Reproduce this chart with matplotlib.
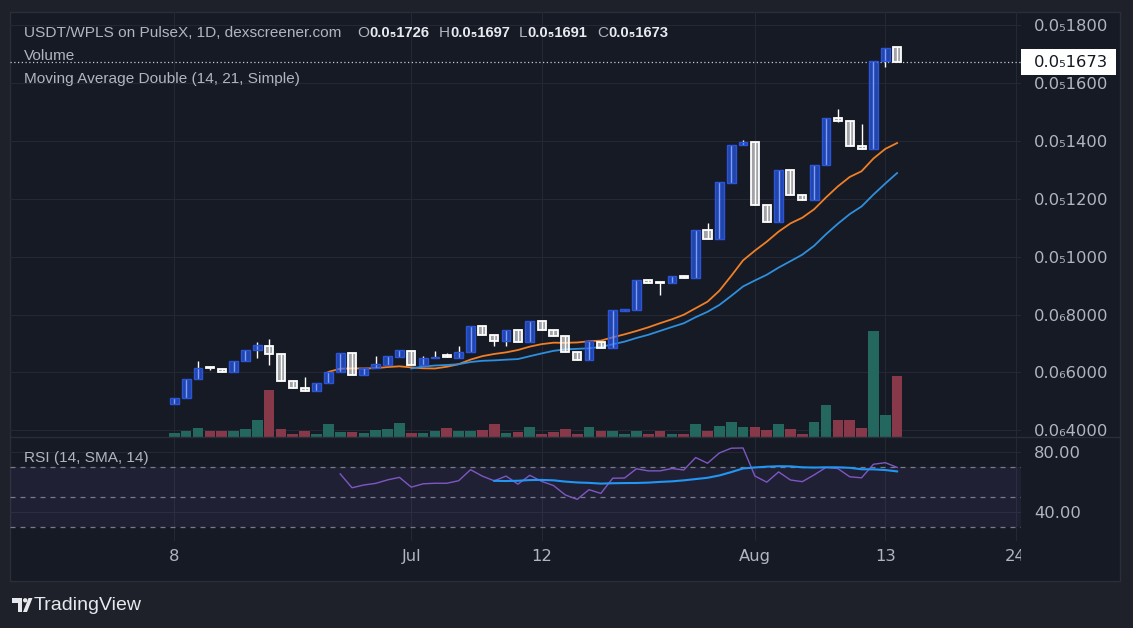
import numpy as np
import pandas as pd
import matplotlib
matplotlib.use("Agg")
import matplotlib.pyplot as plt
from matplotlib.patches import Rectangle, Polygon, Circle
from matplotlib.transforms import Bbox, IdentityTransform
from matplotlib.lines import Line2D

W, H = 1133, 628

# daily candles USDT/WPLS, prices in units of 1e-7
opens = [4.92, 5.12, 5.77, 6.17, 6.13, 6.00, 6.40, 6.78, 6.93, 6.65,
         5.72, 5.48, 5.36, 5.65, 6.00, 6.69, 5.93, 6.15, 6.26, 6.53,
         6.76, 6.25, 6.50, 6.57, 6.50, 6.71, 7.60, 7.31, 7.09, 7.46,
         7.07, 7.79, 7.48, 7.27, 6.72, 6.43, 7.07, 6.85, 8.14, 8.16,
         9.21, 9.11, 9.09, 9.35, 9.28, 10.94, 10.61, 12.55, 13.86, 13.95,
         11.80, 11.20, 13.01, 12.13, 11.97, 13.18, 14.81, 14.69, 13.83, 13.74,
         16.77, 17.26]
highs = [5.13, 5.79, 6.39, 6.17, 6.13, 6.41, 6.79, 7.04, 7.17, 6.65,
         5.72, 5.83, 5.65, 6.03, 6.69, 6.69, 6.15, 6.56, 6.56, 6.77,
         6.76, 6.56, 6.73, 6.69, 6.90, 7.60, 7.60, 7.31, 7.46, 7.46,
         7.79, 7.79, 7.48, 7.27, 6.72, 7.09, 7.07, 8.15, 8.17, 9.21,
         9.21, 9.11, 9.35, 9.35, 10.94, 11.17, 12.57, 13.88, 14.02, 13.95,
         11.80, 13.01, 13.01, 12.13, 13.18, 14.81, 15.12, 14.69, 14.60, 16.77,
         17.23, 17.26]
lows = [4.92, 5.12, 5.77, 6.07, 6.02, 6.00, 6.40, 6.50, 6.26, 5.71,
        5.48, 5.37, 5.36, 5.65, 6.00, 5.93, 5.93, 6.15, 6.26, 6.53,
        6.26, 6.25, 6.50, 6.55, 6.50, 6.71, 7.31, 6.92, 6.92, 7.07,
        7.07, 7.48, 7.26, 6.71, 6.43, 6.43, 6.86, 6.85, 8.14, 8.16,
        9.09, 8.68, 9.09, 9.28, 9.28, 10.63, 10.61, 12.55, 13.86, 11.80,
        11.20, 11.20, 12.15, 11.97, 11.97, 13.18, 14.65, 13.83, 13.72, 13.74,
        16.56, 16.73]
closes = [5.13, 5.79, 6.17, 6.15, 6.02, 6.41, 6.79, 6.94, 6.64, 5.71,
          5.48, 5.37, 5.65, 6.03, 6.69, 5.93, 6.15, 6.28, 6.56, 6.77,
          6.26, 6.51, 6.55, 6.55, 6.72, 7.60, 7.31, 7.09, 7.46, 7.07,
          7.79, 7.48, 7.26, 6.71, 6.43, 7.09, 6.86, 8.15, 8.17, 9.21,
          9.09, 9.09, 9.35, 9.28, 10.94, 10.63, 12.57, 13.88, 13.95, 11.80,
          11.20, 13.01, 12.15, 11.97, 13.18, 14.81, 14.69, 13.83, 13.72, 16.77,
          17.23, 16.73]
volumes = [4.7, 6.7, 9.7, 6.7, 6.7, 6.7, 8.7, 17.7, 47.7, 8.7,
           3.7, 6.7, 3.7, 13.7, 5.0, 5.7, 4.4, 7.7, 8.7, 14.7,
           4.4, 4.4, 6.7, 9.7, 6.7, 6.7, 7.7, 13.4, 4.4, 5.7,
           10.3, 3.3, 5.3, 8.3, 3.3, 10.3, 6.7, 6.7, 3.3, 6.7,
           3.3, 6.7, 3.3, 3.3, 13.5, 6.7, 11.3, 15.3, 10.3, 10.3,
           7.3, 13.3, 8.3, 3.3, 15.3, 32.3, 17.3, 17.3, 9.3, 106.3,
           22.3, 61.3]

time_ticks = [0, 20, 31, 49, 60, 71]
time_labels = ["8", "Jul", "12", "Aug", "13", "24"]
price_ticks = [4, 6, 8, 10, 12, 14, 16, 18]
price_labels = ["0.0₆4000", "0.0₆6000", "0.0₆8000", "0.0₅1000",
                "0.0₅1200", "0.0₅1400", "0.0₅1600", "0.0₅1800"]
rsi_ticks = [40, 80]
rsi_labels = ["40.00", "80.00"]
ohlc_names = ["O", "H", "L", "C"]
ohlc_values = ["0.0₅1726", "0.0₅1697", "0.0₅1691", "0.0₅1673"]

BG_OUT = "#1e212a"
BG = "#161a25"
GRID = "#242835"
TXT = "#b2b5be"
SANS = ["Liberation Sans", "DejaVu Sans"]

# indicators the chart shows: SMA 14/21 and RSI 14 with its SMA 14
cl = pd.Series(closes)
ma14 = cl.rolling(14).mean()
ma21 = cl.rolling(21).mean()


def rma(s, n):
    v = s.to_numpy()
    out = np.full(len(v), np.nan)
    out[n] = v[1:n + 1].mean()
    for i in range(n + 1, len(v)):
        out[i] = (out[i - 1] * (n - 1) + v[i]) / n
    return out


d = cl.diff()
gain = rma(d.clip(lower=0), 14)
loss = rma((-d).clip(lower=0), 14)
rsi = pd.Series(100 - 100 / (1 + gain / loss))
rsi_ma = rsi.rolling(14).mean()
x = np.arange(len(closes))

fig = plt.figure(figsize=(W / 100, H / 100), dpi=100, facecolor=BG_OUT)


def frect(x0, y0, x1, y1):
    return [x0 / W, 1 - y1 / H, (x1 - x0) / W, (y1 - y0) / H]


fig.add_artist(Rectangle((10, H - 580.7), 1110, 568.7, transform=IdentityTransform(),
                         fc=BG, ec="#2a2e39", lw=1, zorder=-1))
fig.add_artist(Line2D([10, 1120], [H - 437.3, H - 437.3], transform=IdentityTransform(),
                      color="#2a2e39", lw=1))

ax = fig.add_axes(frect(10, 12, 1020.7, 437.3))
axv = fig.add_axes(frect(10, 12, 1020.7, 437.3), sharex=ax)
axr = fig.add_axes(frect(10, 437.3, 1020.7, 541), sharex=ax)

for a in (ax, axv, axr):
    a.set_facecolor("none")
    for s in a.spines.values():
        s.set_visible(False)

ax.set_xlim(-13.865, 71.43)
ax.set_ylim(3.76, 18.46)
axr.set_ylim(20.87, 90)
axv.set_ylim(0, 425.3)
axv.axis("off")

axr.set_xticks(time_ticks, time_labels)
ax.yaxis.tick_right()
ax.set_yticks(price_ticks, price_labels)
axr.yaxis.tick_right()
axr.set_yticks(rsi_ticks, rsi_labels)

ax.tick_params(axis="x", labelbottom=False, length=0)
ax.tick_params(axis="y", colors=TXT, labelsize=11.8, length=0, pad=9.6)
axr.tick_params(axis="y", colors=TXT, labelsize=11.8, length=0, pad=9.6)
axr.tick_params(axis="x", colors=TXT, labelsize=11.8, length=0, pad=6)
for a in (ax, axr):
    a.grid(True, color=GRID, lw=0.8)
    a.set_axisbelow(True)

# last time label is cut by the price scale
lab = axr.xaxis.get_major_ticks()[-1].label1
lab.set_clip_on(True)
lab.set_clip_box(Bbox.from_extents(10, 0, 1020.7, H))

# volume
vcol = ["#23675f" if c >= o else "#87394a" for o, c in zip(opens, closes)]
axv.bar(x, volumes, width=0.9, color=vcol)

# moving averages
ax.plot(x, ma14, color="#f07f26", lw=1.3, zorder=2)
ax.plot(x, ma21, color="#2e8fde", lw=1.3, zorder=2)

# candles
for i in range(len(closes)):
    o, h, l, c = opens[i], highs[i], lows[i], closes[i]
    ax.vlines(i, l, h, color="white", lw=1, zorder=3)
    lo, hi = min(o, c), max(o, c)
    hgt = max(hi - lo, 0.04)
    if c >= o:
        ax.add_patch(Rectangle((i - 0.37, lo), 0.74, hgt, fc=(0.16, 0.38, 1.0, 0.62),
                               ec="#2b55d8", lw=1, zorder=4))
    else:
        ax.add_patch(Rectangle((i - 0.34, lo), 0.68, hgt, fc=(1, 1, 1, 0.6),
                               ec="white", lw=1.3, zorder=4))

ax.axhline(closes[-1], color="#c8cad0", lw=0.9, ls=(0, (1, 2)), zorder=1)

# RSI pane
axr.axhspan(30, 70, color="#7e57c2", alpha=0.1, lw=0)
for lvl in (30, 50, 70):
    axr.axhline(lvl, color="#787b86", lw=0.9, ls=(0, (4, 4)))
axr.plot(x, rsi, color="#7e57c2", lw=1)
axr.plot(x, rsi_ma, color="#2196f3", lw=1.5)

# last price tag
ypix = ax.transData.transform((0, closes[-1]))[1]
fig.add_artist(Rectangle((1021, ypix - 13.3), 95, 26.7, transform=IdentityTransform(),
                         fc="white", ec="none", zorder=5))
fig.text(1034 / W, ypix / H, "0.0₅%d" % round(closes[-1] * 100), color="#131722",
         fontsize=11.8, va="center", ha="left", zorder=6)

# legend texts
r = fig.canvas.get_renderer()


def put(xp, yp, s, color=TXT, weight="normal", size=11.1):
    t = fig.text(xp / W, 1 - yp / H, s, color=color, fontsize=size, fontweight=weight,
                 va="center", ha="left", family=SANS)
    return xp + t.get_window_extent(r).width


put(24, 33, "USDT/WPLS on PulseX, 1D, dexscreener.com")
xo = 357
for name, val in zip(ohlc_names, ohlc_values):
    xe = put(xo, 33, name)
    xo = put(xe + 0.5, 33, val, color="#e8eaf0", weight="bold", size=10.6) + 9
put(24, 56, "Volume")
put(24, 79, "Moving Average Double (14, 21, Simple)")
put(24, 458, "RSI (14, SMA, 14)")

# TradingView mark
def pts(lst):
    return [(px, H - py) for px, py in lst]


fig.add_artist(Polygon(pts([(12, 598), (22, 598), (22, 612), (17.5, 612), (17.5, 602.5), (12, 602.5)]),
                       transform=IdentityTransform(), fc="#e6e8ee", ec="none"))
fig.add_artist(Circle((25.2, H - 600.3), 2.2, transform=IdentityTransform(), fc="#e6e8ee", ec="none"))
fig.add_artist(Polygon(pts([(28.5, 598), (32.5, 598), (27, 612), (23, 612)]),
                       transform=IdentityTransform(), fc="#e6e8ee", ec="none"))
put(34, 605, "TradingView", color="#e6e8ee", size=14)

fig.savefig("out.png", dpi=100, facecolor=BG_OUT)
